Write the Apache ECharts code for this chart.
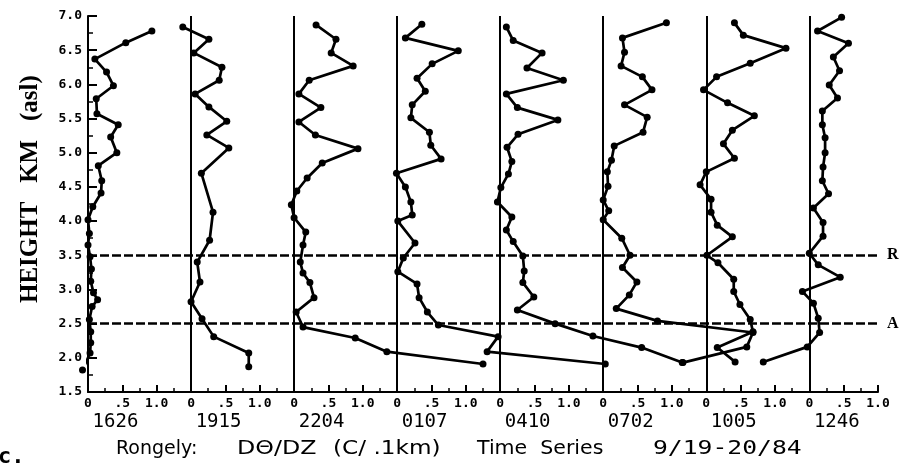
<!DOCTYPE html>
<html>
<head>
<meta charset="utf-8">
<script src="https://cdn.jsdelivr.net/npm/echarts@6/dist/echarts.min.js"></script>
<style>
  html, body { margin: 0; padding: 0; background: #fff; }
  #chart { width: 909px; height: 465px; }
</style>
</head>
<body>
<div id="chart"></div>
<script>
// Sounding times (local), one profile panel each
const panelTimes = ['1626', '1915', '2204', '0107', '0410', '0702', '1005', '1246'];

// dTheta/dz (C per 0.1 km) against height (km asl) for each sounding
const heights1626 = [6.78, 6.61, 6.37, 6.18, 5.98, 5.79, 5.57, 5.41, 5.23, 5.00, 4.81, 4.59, 4.41, 4.21, 4.02, 3.82, 3.65, 3.48, 3.30, 3.12, 2.95, 2.85, 2.75, 2.56, 2.38, 2.22, 2.07, 1.82];
const values1626  = [0.93, 0.55, 0.10, 0.27, 0.37, 0.12, 0.13, 0.44, 0.33, 0.42, 0.15, 0.20, 0.19, 0.07, 0.00, 0.02, 0.00, 0.03, 0.05, 0.04, 0.08, 0.14, 0.06, 0.02, 0.04, 0.04, 0.03, -0.08];

const heights1915 = [6.84, 6.66, 6.46, 6.25, 6.06, 5.86, 5.67, 5.46, 5.26, 5.07, 4.70, 4.13, 3.72, 3.40, 3.11, 2.82, 2.57, 2.31, 2.07, 1.87];
const values1915  = [-0.12, 0.26, 0.04, 0.45, 0.41, 0.06, 0.26, 0.52, 0.23, 0.55, 0.15, 0.32, 0.27, 0.09, 0.13, 0.00, 0.16, 0.33, 0.84, 0.84];

const heights2204 = [6.87, 6.66, 6.46, 6.27, 6.06, 5.86, 5.66, 5.45, 5.26, 5.06, 4.85, 4.63, 4.44, 4.24, 4.05, 3.84, 3.65, 3.40, 3.24, 3.10, 2.88, 2.67, 2.45, 2.29, 2.09, 1.91];
const values2204  = [0.32, 0.61, 0.54, 0.86, 0.22, 0.07, 0.39, 0.07, 0.31, 0.93, 0.41, 0.19, 0.04, -0.04, 0.00, 0.17, 0.13, 0.09, 0.13, 0.23, 0.29, 0.03, 0.13, 0.89, 1.35, 2.75];

const heights0107 = [6.88, 6.68, 6.49, 6.30, 6.09, 5.90, 5.70, 5.51, 5.30, 5.11, 4.91, 4.70, 4.50, 4.28, 4.09, 4.00, 3.68, 3.46, 3.26, 3.08, 2.88, 2.67, 2.48, 2.31, 2.09, 1.91];
const values0107  = [0.36, 0.12, 0.89, 0.51, 0.29, 0.41, 0.22, 0.20, 0.47, 0.49, 0.64, -0.01, 0.12, 0.20, 0.22, 0.01, 0.26, 0.09, 0.01, 0.29, 0.32, 0.44, 0.60, 1.47, 1.31, 3.03];

const heights0410 = [6.84, 6.64, 6.46, 6.24, 6.06, 5.86, 5.66, 5.48, 5.27, 5.08, 4.87, 4.69, 4.49, 4.28, 4.06, 3.87, 3.70, 3.49, 3.27, 3.10, 2.89, 2.70, 2.50, 2.32, 2.15, 1.93];
const values0410  = [0.09, 0.19, 0.61, 0.39, 0.92, 0.09, 0.25, 0.84, 0.26, 0.10, 0.17, 0.12, 0.01, -0.04, 0.17, 0.09, 0.19, 0.33, 0.35, 0.33, 0.49, 0.25, 0.80, 1.35, 2.06, 2.65];

const heights0702 = [6.90, 6.68, 6.47, 6.27, 6.11, 5.92, 5.70, 5.52, 5.30, 5.10, 4.89, 4.72, 4.51, 4.31, 4.15, 4.02, 3.75, 3.50, 3.32, 3.11, 2.92, 2.72, 2.54, 2.37, 2.16, 1.93];
const values0702  = [0.92, 0.28, 0.31, 0.26, 0.57, 0.71, 0.31, 0.64, 0.58, 0.16, 0.12, 0.06, 0.07, 0.00, 0.08, 0.00, 0.27, 0.39, 0.28, 0.49, 0.38, 0.19, 0.79, 2.18, 2.09, 1.16];

const heights1005 = [6.90, 6.72, 6.53, 6.31, 6.11, 5.92, 5.73, 5.54, 5.33, 5.13, 4.92, 4.72, 4.53, 4.32, 4.13, 3.94, 3.77, 3.50, 3.39, 3.15, 2.97, 2.78, 2.56, 2.38, 2.15, 1.94];
const values1005  = [0.41, 0.54, 1.16, 0.64, 0.15, -0.04, 0.31, 0.70, 0.38, 0.25, 0.41, 0.00, -0.09, 0.07, 0.07, 0.16, 0.38, 0.01, 0.17, 0.40, 0.40, 0.49, 0.64, 0.68, 0.16, 0.42];

const heights1246 = [6.98, 6.78, 6.60, 6.40, 6.20, 5.99, 5.80, 5.61, 5.41, 5.22, 5.00, 4.79, 4.59, 4.40, 4.19, 3.98, 3.78, 3.53, 3.36, 3.18, 2.97, 2.80, 2.58, 2.37, 2.16, 1.94];
const values1246  = [0.47, 0.12, 0.57, 0.35, 0.44, 0.29, 0.41, 0.19, 0.19, 0.23, 0.23, 0.20, 0.19, 0.28, 0.06, 0.20, 0.20, 0.00, 0.13, 0.45, -0.10, 0.06, 0.13, 0.15, -0.03, -0.67];

// Reference levels drawn across all panels
const levelR = 3.5;
const levelA = 2.5;

const heightsList = [heights1626, heights1915, heights2204, heights0107, heights0410, heights0702, heights1005, heights1246];
const valuesList  = [values1626, values1915, values2204, values0107, values0410, values0702, values1005, values1246];

// Each panel's zero sits 1.5 units to the right of the previous one
const PANEL_SHIFT = 1.5;
const X_MAX = PANEL_SHIFT * (panelTimes.length - 1) + 1.0;
const Y_MIN = 1.5;
const Y_MAX = 7.0;
const TIME_LABEL_AT = 0.4;

const ink = '#000';
const tickFont = { fontFamily: 'DejaVu Sans Mono', fontWeight: 'bold', fontSize: 13, color: ink };
const levelLabel = { show: true, position: 'end', distance: 9,
                     fontFamily: 'Liberation Serif', fontWeight: 'bold', fontSize: 16, color: ink };

function panelTick(v) {
  const r = Math.round((((v % PANEL_SHIFT) + PANEL_SHIFT) % PANEL_SHIFT) * 100) / 100;
  if (r === 0) return '0';
  if (r === 0.5) return '.5';
  if (r === 1) return '1.0';
  return '';
}

const panelZeros = panelTimes.slice(1).map((t, i) => (i + 1) * PANEL_SHIFT);

const series = panelTimes.map((t, k) => ({
  name: t,
  type: 'line',
  clip: false,
  symbol: 'circle',
  symbolSize: 7,
  showSymbol: true,
  lineStyle: { color: ink, width: 2.7 },
  itemStyle: { color: ink },
  data: valuesList[k].map((v, i) => [v + k * PANEL_SHIFT, heightsList[k][i]]),
  z: 3
}));

// Zero line of every panel after the first, plus the two dashed levels
series[0].markLine = {
  silent: true,
  symbol: ['none', 'none'],
  animation: false,
  label: { show: false },
  data: panelZeros.map(x => [
    { coord: [x, Y_MIN], lineStyle: { color: ink, width: 2, type: 'solid' } },
    { coord: [x, Y_MAX] }
  ]).concat([
    [
      { coord: [0, levelR], lineStyle: { color: ink, width: 2.5, type: [9, 3] },
        label: Object.assign({ formatter: 'R' }, levelLabel) },
      { coord: [X_MAX, levelR] }
    ],
    [
      { coord: [0, levelA], lineStyle: { color: ink, width: 2.5, type: [9, 3] },
        label: Object.assign({ formatter: 'A' }, levelLabel) },
      { coord: [X_MAX, levelA] }
    ]
  ])
};

function titleText(x, text, scaleX, font) {
  return {
    type: 'text', x: x, y: 449, scaleX: scaleX,
    style: { text: text, fontFamily: font || 'DejaVu Sans', fontSize: 19, fill: ink, verticalAlign: 'middle' }
  };
}

const option = {
  animation: false,
  backgroundColor: '#fff',
  grid: { left: 88, right: 31, top: 16, bottom: 73, containLabel: false },
  xAxis: [
    {
      type: 'value',
      min: 0,
      max: X_MAX,
      interval: 0.5,
      axisLine: { show: true, onZero: false, lineStyle: { color: ink, width: 2 } },
      axisTick: { show: true, inside: true, length: 7, lineStyle: { color: ink, width: 2 } },
      minorTick: { show: true, splitNumber: 2, length: 4, lineStyle: { color: ink, width: 1.5 } },
      splitLine: { show: false },
      axisLabel: Object.assign({ margin: 5, showMinLabel: true, showMaxLabel: true, formatter: panelTick }, tickFont)
    },
    {
      type: 'value',
      min: 0,
      max: X_MAX,
      position: 'bottom',
      axisLine: { show: false },
      axisTick: { show: false },
      splitLine: { show: false },
      axisLabel: {
        show: true,
        margin: 21,
        customValues: panelTimes.map((t, k) => k * PANEL_SHIFT + TIME_LABEL_AT),
        formatter: v => panelTimes[Math.round((v - TIME_LABEL_AT) / PANEL_SHIFT)] || '',
        fontFamily: 'DejaVu Sans Mono',
        fontSize: 19,
        color: ink
      }
    }
  ],
  yAxis: {
    type: 'value',
    min: Y_MIN,
    max: Y_MAX,
    interval: 0.5,
    axisLine: { show: true, onZero: false, lineStyle: { color: ink, width: 2 } },
    axisTick: { show: true, inside: true, length: 9, lineStyle: { color: ink, width: 2 } },
    minorTick: { show: true, splitNumber: 2, length: 5, lineStyle: { color: ink, width: 1.5 } },
    splitLine: { show: false },
    axisLabel: Object.assign({ margin: 6, formatter: v => v.toFixed(1) }, tickFont)
  },
  graphic: [
    {
      type: 'text', x: 31, y: 303, rotation: Math.PI / 2,
      style: { text: 'HEIGHT   KM   (asl)', fontFamily: 'Liberation Serif', fontWeight: 'bold',
               fontSize: 25, fill: ink, align: 'left', verticalAlign: 'middle' }
    },
    titleText(116, 'Rongely:', 1.0),
    titleText(237, 'D\u0398/DZ', 1.25),
    titleText(333, '(C/ .1km)', 1.22),
    titleText(477, 'Time  Series', 1.08),
    titleText(653, '9/19-20/84', 1.3, 'DejaVu Sans Mono'),
    { type: 'text', x: -2, y: 457, style: { text: 'c.', fontFamily: 'DejaVu Sans Mono', fontWeight: 'bold', fontSize: 22, fill: ink, verticalAlign: 'middle' } }
  ],
  series: series
};

const chart = echarts.init(document.getElementById('chart'), null, { renderer: 'canvas' });
chart.setOption(option);
</script>
</body>
</html>
